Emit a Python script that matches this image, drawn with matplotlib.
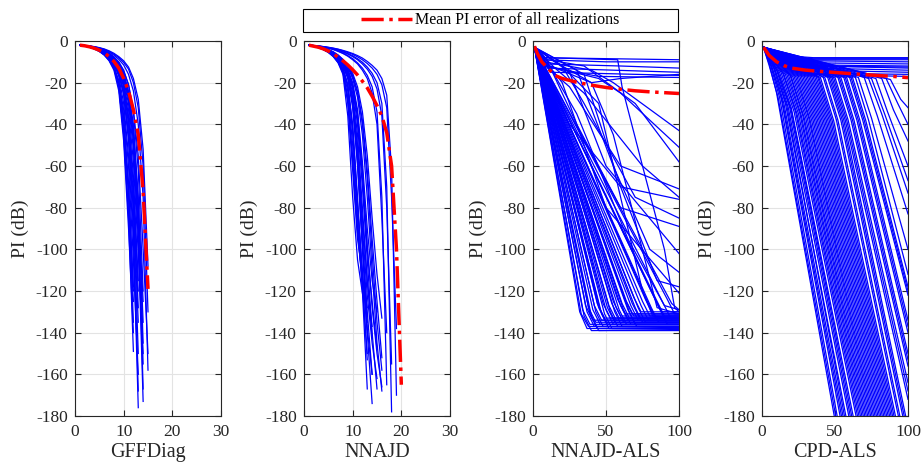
import matplotlib
matplotlib.use('Agg')
import matplotlib.pyplot as plt
from matplotlib.lines import Line2D
from matplotlib.patches import Rectangle
import numpy as np

plt.rcParams['font.family'] = ['Liberation Serif', 'DejaVu Serif']
plt.rcParams['axes.unicode_minus'] = False

# PI (dB) per iteration, GFFDiag realizations (x = 1..N)
gff_curves = [
    [-2, -2.3, -2.8, -3.5, -4.5, -6, -8.5, -12, -22, -45, -85, -149],
    [-2, -2.4, -3, -3.8, -5, -6.5, -9, -13, -20, -38, -75, -135],
    [-2, -2.3, -2.9, -3.7, -4.8, -6.3, -8.8, -12.5, -21, -42, -70, -120],
    [-2, -2.4, -3, -3.8, -5, -6.8, -9.5, -14, -24, -48, -90, -140],
    [-2, -2.3, -2.8, -3.6, -4.7, -6.2, -8.6, -12.2, -19, -36, -68, -118],
    [-2, -2.4, -3, -3.8, -4.9, -6.6, -9.2, -13.2, -22, -44, -82, -125],
    [-2, -2.3, -2.8, -3.5, -4.5, -6, -8, -11, -17, -30, -55, -95, -176],
    [-2, -2.4, -3, -3.6, -4.6, -6.2, -8.4, -11.5, -16, -26, -48, -90, -168],
    [-2, -2.3, -2.7, -3.3, -4.2, -5.5, -7.5, -10, -14, -22, -40, -75, -128],
    [-2, -2.2, -2.6, -3.2, -4, -5.2, -7, -9.5, -13.5, -21, -36, -65, -115],
    [-2, -2.3, -2.8, -3.4, -4.3, -5.6, -7.6, -10.5, -15, -24, -44, -82, -150],
    [-2, -2.4, -2.9, -3.7, -4.8, -6.4, -8.9, -12.8, -19.5, -33, -60, -105, -160],
    [-2, -2.3, -2.8, -3.5, -4.4, -5.8, -7.9, -10.8, -15.5, -25, -45, -80, -135],
    [-2, -2.3, -2.8, -3.4, -4.3, -5.6, -7.4, -10, -14, -21.5, -38, -70, -120],
    [-2, -2.3, -2.7, -3.3, -4.1, -5.3, -7, -9.4, -13, -19, -30, -52, -95, -173],
    [-2, -2.2, -2.6, -3.1, -3.9, -5, -6.6, -8.8, -12, -17, -27, -46, -85, -167],
    [-2, -2.2, -2.5, -3, -3.7, -4.7, -6.2, -8.2, -11, -15.5, -24, -40, -75, -145],
    [-2, -2.2, -2.5, -2.9, -3.5, -4.4, -5.8, -7.6, -10, -14, -21, -34, -62, -120],
    [-2, -2.3, -2.7, -3.2, -4, -5.1, -6.8, -9, -12.5, -18, -28, -48, -90, -155],
    [-2, -2.3, -2.7, -3.3, -4.2, -5.4, -7.2, -9.8, -13.5, -20, -33, -58, -102, -150],
    [-2, -2.2, -2.6, -3.1, -3.8, -4.9, -6.4, -8.5, -11.5, -16, -25, -42, -78, -135],
    [-2, -2.2, -2.6, -3.1, -3.9, -5, -6.5, -8.6, -11.6, -16.5, -26, -44, -80, -125],
    [-2, -2.2, -2.5, -2.9, -3.4, -4.2, -5.3, -6.8, -8.8, -11.5, -16, -24, -40, -75, -158],
    [-2, -2.2, -2.4, -2.8, -3.3, -4, -5, -6.3, -8, -10.3, -13.5, -20, -32, -60, -130],
    [-2, -2.2, -2.4, -2.7, -3.2, -3.8, -4.7, -5.9, -7.5, -9.5, -12.5, -18, -28, -52, -108],
    [-2, -2.2, -2.5, -2.9, -3.6, -4.5, -5.9, -7.8, -10.4, -14.5, -21, -33, -55, -100, -150],
]
gff_mean = [-2, -2.3, -2.8, -3.5, -4.4, -5.6, -7.5, -9.8, -13, -18, -24, -33, -45, -72, -119]

# PI (dB) per iteration, NNAJD realizations (x = 1..N)
nnajd_curves = [
    [-2, -2.5, -3.2, -4.2, -5.5, -7.5, -10.5, -16, -36, -75, -105, -121],
    [-2, -2.5, -3.2, -4.1, -5.4, -7.3, -10.2, -15, -30, -62, -95, -112],
    [-2, -2.5, -3.1, -4, -5.2, -7, -9.8, -14, -24, -50, -85, -120, -167],
    [-2, -2.4, -3, -3.8, -5, -6.7, -9.2, -13, -21, -40, -75, -115, -153],
    [-2, -2.5, -3.1, -4, -5.2, -6.9, -9.5, -13.5, -22, -44, -80, -110, -140],
    [-2, -2.5, -3.1, -4, -5.3, -7.1, -9.9, -14.5, -27, -56, -90, -118, -150],
    [-2, -2.5, -3.2, -4.1, -5.4, -7.2, -10, -14.8, -28, -58, -92, -115, -128],
    [-2, -2.4, -3, -3.8, -4.9, -6.5, -8.8, -12, -18, -32, -60, -100, -140, -174],
    [-2, -2.4, -2.9, -3.6, -4.6, -6.1, -8.2, -11.2, -16, -27, -50, -85, -115, -137],
    [-2, -2.4, -3, -3.7, -4.8, -6.3, -8.5, -11.6, -17, -29, -55, -95, -130, -160],
    [-2, -2.4, -3, -3.9, -5.1, -6.8, -9.4, -13.2, -21, -42, -78, -112, -138, -160],
    [-2, -2.4, -2.9, -3.6, -4.6, -6, -8.1, -11, -15.5, -25, -45, -80, -115, -142],
    [-2, -2.4, -3, -3.8, -4.9, -6.5, -8.7, -11.8, -17.5, -30, -58, -98, -135],
    [-2, -2.4, -2.9, -3.6, -4.6, -6, -8, -10.8, -15, -23, -40, -70, -105, -140, -167],
    [-2, -2.3, -2.8, -3.5, -4.4, -5.7, -7.5, -10, -13.5, -20, -33, -58, -90, -115, -130],
    [-2, -2.4, -2.9, -3.6, -4.5, -5.9, -7.8, -10.5, -14.5, -22, -37, -65, -100, -125, -148],
    [-2, -2.4, -3, -3.7, -4.7, -6.2, -8.4, -11.4, -16.5, -28, -52, -90, -122, -145, -162],
    [-2, -2.3, -2.8, -3.4, -4.3, -5.5, -7.2, -9.5, -12.7, -18, -27, -45, -75, -110, -145, -168],
    [-2, -2.3, -2.7, -3.3, -4.1, -5.2, -6.8, -9, -12, -16.5, -24, -38, -62, -95, -125, -152],
    [-2, -2.3, -2.7, -3.3, -4.1, -5.2, -6.7, -8.8, -11.6, -15.5, -22, -34, -55, -85, -112, -133],
    [-2, -2.3, -2.8, -3.5, -4.5, -5.8, -7.7, -10.3, -14, -21, -35, -62, -98, -128, -150, -166],
    [-2, -2.3, -2.8, -3.4, -4.3, -5.5, -7.1, -9.3, -12.3, -17, -25, -40, -66, -102, -135, -158],
    [-2, -2.2, -2.5, -2.9, -3.4, -4, -4.8, -5.8, -7, -8.5, -10.5, -13, -16.5, -22, -34, -75, -165],
    [-2, -2.2, -2.5, -2.9, -3.4, -4.1, -5, -6, -7.3, -9, -11, -14, -18, -25, -40, -85, -140],
    [-2, -2.2, -2.5, -2.8, -3.2, -3.7, -4.3, -5.1, -6, -7.1, -8.5, -10.2, -12.5, -15.5, -20, -30, -70, -178],
    [-2, -2.2, -2.5, -2.8, -3.3, -3.8, -4.5, -5.3, -6.3, -7.5, -9, -11, -13.5, -17, -23, -36, -80, -155],
    [-2, -2.2, -2.4, -2.7, -3, -3.4, -3.9, -4.5, -5.2, -6, -7, -8.2, -9.8, -11.7, -14, -18, -26, -62, -170],
    [-2, -2.2, -2.4, -2.7, -3.1, -3.5, -4, -4.7, -5.5, -6.4, -7.6, -9, -10.8, -13, -16, -21, -32, -75, -138],
]
nnajd_mean = [-2, -2.5, -3, -3.8, -4.8, -6, -7.8, -9.5, -11.5, -13.8, -16.3, -19.3,
              -22.5, -26.5, -31, -36, -44, -60, -100, -165]

# NNAJD-ALS realizations, read as (iteration, PI) knots
als_x = [
    [1, 32, 37, 100], [1, 33, 38, 100], [1, 34, 39, 100], [1, 35, 40, 100],
    [1, 36, 41, 100], [1, 37, 42, 100], [1, 38, 43, 100], [1, 39, 44, 100],
    [1, 40, 45, 100], [1, 41, 46, 100], [1, 42, 47, 100], [1, 43, 48, 100],
    [1, 44, 49, 100], [1, 45, 50, 100], [1, 46, 51, 100], [1, 47, 52, 100],
    [1, 48, 53, 100], [1, 49, 54, 100], [1, 50, 55, 100], [1, 51, 56, 100],
    [1, 52, 57, 100], [1, 53, 58, 100], [1, 54, 59, 100], [1, 55, 60, 100],
    [1, 56, 61, 100], [1, 57, 62, 100], [1, 58, 63, 100], [1, 59, 64, 100],
    [1, 60, 65, 100], [1, 61, 66, 100], [1, 62, 67, 100], [1, 63, 68, 100],
    [1, 64, 69, 100], [1, 65, 70, 100], [1, 66, 71, 100], [1, 67, 72, 100],
    [1, 68, 73, 100], [1, 69, 74, 100], [1, 70, 75, 100], [1, 72, 77, 100],
    [1, 74, 79, 100], [1, 75, 80, 100], [1, 77, 82, 100], [1, 79, 84, 100],
    [1, 81, 86, 100], [1, 83, 88, 100], [1, 85, 90, 100], [1, 87, 92, 100],
    [1, 90, 95, 100], [1, 92, 97, 100], [1, 95, 100],
    [1, 8, 40, 55, 100], [1, 10, 45, 60, 100], [1, 12, 25, 60, 100],
    [1, 15, 35, 75, 100], [1, 20, 35, 70, 100], [1, 10, 30, 60, 100],
    [1, 25, 50, 100], [1, 30, 55, 80, 100], [1, 35, 60, 85, 100],
    [1, 20, 50, 100], [1, 8, 58, 61, 75, 90, 97, 100],
    [1, 15, 40, 55, 85, 100], [1, 20, 45, 75, 82, 100],
    [1, 10, 35, 70, 100], [1, 6, 25, 60, 100], [1, 12, 30, 65, 90, 100],
    [1, 5, 100], [1, 6, 50, 100], [1, 8, 60, 100], [1, 10, 100],
    [1, 12, 70, 100], [1, 5, 40, 60, 100], [1, 7, 45, 100],
]
als_y = [
    [-3, -130, -138, -137.5], [-3, -131, -137, -137], [-3, -129, -136, -136], [-3, -132, -139, -138.5],
    [-3, -127, -134, -134], [-3, -130, -137, -137], [-3, -128, -135, -135], [-3, -131, -138, -138],
    [-3, -132, -139, -139], [-3, -129, -136, -136], [-3, -127, -134, -134], [-3, -130, -137, -137],
    [-3, -126, -133, -133], [-3, -128, -135, -135], [-3, -129, -136, -136], [-3, -131, -138, -138],
    [-3, -126, -133, -133], [-3, -131, -138, -138], [-3, -129, -136, -136], [-3, -128, -135, -135],
    [-3, -127, -134, -134], [-3, -130, -137, -137], [-3, -126, -133, -133], [-3, -125, -132, -132],
    [-3, -130, -137, -137], [-3, -128, -135, -135], [-3, -124, -131, -131], [-3, -129, -136, -136],
    [-3, -127, -134, -134], [-3, -126, -133, -133], [-3, -129, -136, -136], [-3, -124, -131, -131],
    [-3, -125, -132, -132], [-3, -129, -136, -136], [-3, -130, -137, -137], [-3, -127, -134, -134],
    [-3, -126, -133, -133], [-3, -123, -130, -130], [-3, -128, -135, -135], [-3, -128, -135, -135],
    [-3, -127, -134, -134], [-3, -125, -132, -132], [-3, -124, -131, -131], [-3, -126, -133, -133],
    [-3, -128, -135, -135], [-3, -123, -130, -130], [-3, -125, -132, -132], [-3, -129, -136, -136],
    [-3, -127, -134, -134], [-3, -124, -131, -131], [-3, -126, -129],
    [-3, -10, -14, -20, -43], [-3, -12, -18, -25, -51], [-3, -14, -22, -60, -71],
    [-3, -13, -25, -60, -75], [-3, -12, -30, -75, -85], [-3, -10, -40, -80, -89],
    [-3, -15, -60, -102], [-3, -14, -60, -100, -111], [-3, -16, -70, -115, -118],
    [-3, -20, -80, -121], [-3, -8, -9, -22, -60, -100, -128, -130],
    [-3, -10, -20, -45, -128, -131], [-3, -12, -30, -120, -132, -133],
    [-3, -9, -12, -30, -58], [-3, -10, -40, -70, -76], [-3, -13, -35, -95, -127, -129],
    [-3, -8, -9], [-3, -9, -10, -10], [-3, -11, -12, -13], [-3, -13, -15],
    [-3, -15, -16, -16.5], [-3, -10, -20, -18, -16], [-3, -12, -17, -17.5],
]
als_mean_x = [1, 3, 6, 10, 15, 20, 30, 40, 50, 60, 70, 80, 90, 100]
als_mean_y = [-2.5, -6, -10, -13, -16.5, -18, -19.8, -21.2, -22.3, -23.2, -23.9, -24.4, -24.8, -25.2]

# CPD-ALS realizations, read as (iteration, PI) knots
cpd_x = [
    [1, 5, 10, 50], [1, 5, 11, 51], [1, 6, 12, 52], [1, 7, 13, 54], [1, 7, 14, 55],
    [1, 8, 15, 56], [1, 9, 16, 58], [1, 9, 17, 57], [1, 10, 18, 60], [1, 11, 19, 61],
    [1, 11, 20, 62], [1, 12, 20, 63], [1, 13, 22, 65], [1, 14, 23, 66], [1, 15, 24, 67],
    [1, 16, 25, 68], [1, 17, 26, 69], [1, 18, 27, 70], [1, 19, 28, 71], [1, 20, 29, 72],
    [1, 21, 30, 73], [1, 22, 31, 74], [1, 23, 32, 75], [1, 24, 33, 76], [1, 25, 34, 77],
    [1, 26, 35, 78], [1, 27, 36, 79], [1, 28, 37, 80], [1, 29, 38, 81], [1, 30, 39, 82],
    [1, 31, 40, 83], [1, 32, 41, 84], [1, 33, 42, 85], [1, 34, 43, 86], [1, 35, 44, 87],
    [1, 36, 45, 88], [1, 37, 46, 89], [1, 38, 47, 90], [1, 39, 48, 91], [1, 40, 49, 92],
    [1, 42, 51, 94], [1, 43, 52, 95], [1, 45, 54, 97], [1, 46, 55, 98], [1, 47, 56, 99],
    [1, 48, 57, 100], [1, 49, 58, 100], [1, 50, 59, 100], [1, 52, 61, 100], [1, 53, 62, 100],
    [1, 54, 63, 100], [1, 56, 65, 100], [1, 57, 66, 100], [1, 58, 67, 100], [1, 60, 69, 100],
    [1, 61, 70, 100], [1, 62, 71, 100], [1, 64, 73, 100], [1, 66, 75, 100], [1, 70, 79, 100],
    [1, 73, 82, 100], [1, 75, 84, 100], [1, 78, 86, 100], [1, 82, 90, 100], [1, 85, 93, 100],
    [1, 88, 95, 100],
    [1, 15, 35, 100], [1, 15, 35, 100], [1, 15, 35, 100], [1, 15, 35, 100],
    [1, 15, 35, 100], [1, 15, 35, 100], [1, 15, 35, 100], [1, 15, 35, 100],
    [1, 15, 35, 100], [1, 15, 35, 100], [1, 15, 35, 100], [1, 15, 35, 100],
]
cpd_y = [
    [-3, -11, -25, -182], [-3, -12, -27, -182], [-3, -12, -27, -182], [-3, -13, -27, -182], [-3, -13, -29, -182],
    [-3, -13, -30, -182], [-3, -14, -30, -182], [-3, -14, -31, -182], [-3, -14, -32, -182], [-3, -15, -32, -182],
    [-3, -15, -33, -182], [-3, -15, -32, -182], [-3, -15, -34, -182], [-3, -15, -34, -182], [-3, -16, -35, -182],
    [-3, -16, -35, -182], [-3, -16, -35, -182], [-3, -16, -36, -182], [-3, -16, -36, -182], [-3, -17, -37, -182],
    [-3, -17, -37, -182], [-3, -17, -37, -182], [-3, -17, -37, -182], [-3, -17, -38, -182], [-3, -17, -38, -182],
    [-3, -17, -38, -182], [-3, -17, -38, -182], [-3, -17, -38, -182], [-3, -17, -38, -182], [-3, -17, -38, -182],
    [-3, -17, -38, -182], [-3, -17, -38, -182], [-3, -17, -38, -182], [-3, -17, -38, -182], [-3, -17, -38, -182],
    [-3, -17, -38, -182], [-3, -17, -38, -182], [-3, -17, -38, -182], [-3, -17.5, -38, -182], [-3, -17.5, -38, -182],
    [-3, -17.5, -38, -182], [-3, -17.5, -38, -182], [-3, -17.5, -38, -182], [-3, -17.5, -38, -182], [-3, -17.5, -38, -182],
    [-3, -17.5, -38, -172], [-3, -17.5, -38, -168], [-3, -17.5, -38, -164], [-3, -17.5, -38, -156], [-3, -17.5, -38, -153],
    [-3, -17.5, -38, -150], [-3, -17.5, -38, -140], [-3, -17.5, -38, -137], [-3, -17.5, -38, -134], [-3, -17.5, -38, -122],
    [-3, -17.5, -38, -120], [-3, -17.5, -38, -118], [-3, -17.5, -38, -112], [-3, -17.5, -37, -100], [-3, -17.5, -36, -83],
    [-3, -18, -35, -73], [-3, -18, -35, -67], [-3, -18, -34, -60], [-3, -18, -33, -48], [-3, -18, -30, -40],
    [-3, -18.5, -28, -32],
    [-3, -7, -8, -8], [-3, -7.5, -8.5, -8.5], [-3, -8, -9, -9], [-3, -8.5, -9.5, -10],
    [-3, -9, -10.5, -11], [-3, -9.5, -11.5, -12], [-3, -10, -12, -12.5], [-3, -10, -12, -13],
    [-3, -11, -13, -14], [-3, -12, -14, -15], [-3, -12.5, -15.5, -16], [-3, -13, -16, -17],
]
cpd_mean_x = [1, 5, 10, 15, 20, 30, 40, 50, 60, 70, 80, 90, 100]
cpd_mean_y = [-3, -7, -10, -11.8, -13, -14, -14.6, -15.1, -15.6, -16.1, -16.6, -17, -17.6]

panel_names = ['GFFDiag', 'NNAJD', 'NNAJD-ALS', 'CPD-ALS']
lefts = [75, 304, 533, 762]

fig = plt.figure(figsize=(9.24, 4.66), dpi=100)
axes = [fig.add_axes([l / 924, 50 / 466, 146 / 924, 375 / 466]) for l in lefts]

blue = dict(color=(0, 0, 1), lw=0.9)
red = dict(color='red', ls='-.', lw=2.5)

ax = axes[0]
for c in gff_curves:
    ax.plot(np.arange(1, len(c) + 1), c, **blue)
ax.plot(np.arange(1, len(gff_mean) + 1), gff_mean, **red)

ax = axes[1]
for c in nnajd_curves:
    ax.plot(np.arange(1, len(c) + 1), c, **blue)
ax.plot(np.arange(1, len(nnajd_mean) + 1), nnajd_mean, **red)

ax = axes[2]
for xs, ys in zip(als_x, als_y):
    ax.plot(xs, ys, **blue)
ax.plot(als_mean_x, als_mean_y, **red)

ax = axes[3]
for xs, ys in zip(cpd_x, cpd_y):
    ax.plot(xs, ys, **blue)
ax.plot(cpd_mean_x, cpd_mean_y, **red)

for i, ax in enumerate(axes):
    ax.set_ylim(-180, 0)
    ax.set_yticks(np.arange(-180, 1, 20))
    if i < 2:
        ax.set_xlim(0, 30)
        ax.set_xticks([0, 10, 20, 30])
    else:
        ax.set_xlim(0, 100)
        ax.set_xticks([0, 50, 100])
    ax.grid(True, color='#e3e3e3', lw=0.8)
    ax.set_axisbelow(True)
    ax.tick_params(direction='in', top=True, right=True, length=4,
                   labelsize=12.5, colors='#262626', width=0.8)
    ax.tick_params(axis='x', pad=6)
    ax.tick_params(axis='y', pad=5.3)
    for s in ax.spines.values():
        s.set_color('#262626')
        s.set_linewidth(0.8)
    ax.set_xlabel(panel_names[i], fontsize=14.5, color='#262626', labelpad=2)
    ax.set_ylabel('PI (dB)', fontsize=14, color='#262626')
    ax.yaxis.set_label_coords(-0.315, 0.5)

fig.add_artist(Rectangle((303 / 924, 1 - 32 / 466), 375 / 924, 23 / 466,
                         transform=fig.transFigure, fill=False, edgecolor='black', lw=0.8))
handle = Line2D([], [], **red)
fig.legend([handle], ['Mean PI error of all realizations'], loc='center',
           bbox_to_anchor=(490.5 / 924, 1 - 20.5 / 466), frameon=False,
           fontsize=11.5, handlelength=3.2, handletextpad=0.2, borderpad=0)

fig.savefig('out.png', dpi=100)
